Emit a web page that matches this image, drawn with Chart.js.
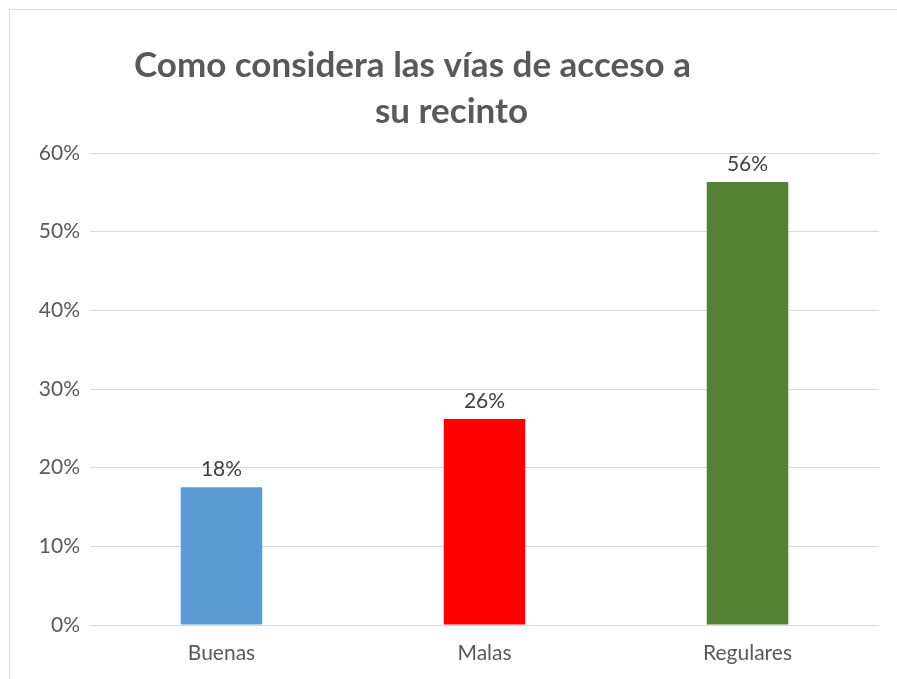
<!DOCTYPE html>
<html>
<head>
<meta charset="utf-8">
<script src="https://cdn.jsdelivr.net/npm/chart.js@4.4.1/dist/chart.umd.min.js"></script>
<style>
  html, body { margin: 0; padding: 0; background: #ffffff; }
  #wrap { position: relative; width: 897px; height: 679px; overflow: hidden; background: #fff; }
  #frame { position: absolute; left: 9px; top: 9px; width: 900px; height: 700px; border: 1px solid #d9d9d9; box-sizing: border-box; }
  canvas { position: absolute; left: 0; top: 0; }
</style>
</head>
<body>
<div id="wrap">
  <div id="frame"></div>
  <canvas id="c" width="897" height="679"></canvas>
</div>
<script>
const titleLines = ["Como considera las vías de acceso a", "su recinto"];
const categories = ["Buenas", "Malas", "Regulares"];
const values = [17.5, 26.2, 56.3];
const barColors = ["#5B9BD5", "#FF0000", "#548235"];
const yTicks = [0, 10, 20, 30, 40, 50, 60];

const FONT = "Lato, 'Open Sans', sans-serif";

const titlePlugin = {
  id: 'customTitle',
  afterDraw(chart) {
    const ctx = chart.ctx;
    ctx.save();
    ctx.fillStyle = '#595959';
    ctx.font = "bold 35px " + FONT;
    ctx.textBaseline = 'alphabetic';
    ctx.textAlign = 'left';
    ctx.fillText(titleLines[0], 134, 77);
    ctx.textAlign = 'right';
    ctx.fillText(titleLines[1], 528, 123);
    ctx.restore();
  }
};

const labelPlugin = {
  id: 'valueLabels',
  afterDatasetsDraw(chart) {
    const ctx = chart.ctx;
    const meta = chart.getDatasetMeta(0);
    ctx.save();
    ctx.fillStyle = '#404040';
    ctx.font = "21px " + FONT;
    ctx.textAlign = 'center';
    ctx.textBaseline = 'alphabetic';
    meta.data.forEach((bar, i) => {
      ctx.fillText(Math.round(values[i]) + '%', bar.x, bar.y - 11);
    });
    ctx.restore();
  }
};

new Chart(document.getElementById('c'), {
  type: 'bar',
  data: {
    labels: categories,
    datasets: [{
      data: values,
      backgroundColor: barColors,
      borderWidth: 0,
      categoryPercentage: 1.0,
      barPercentage: 0.31
    }]
  },
  options: {
    responsive: false,
    animation: false,
    devicePixelRatio: 1,
    layout: { padding: { top: 153, right: 18, left: 0, bottom: 0 } },
    plugins: {
      legend: { display: false },
      title: { display: false },
      tooltip: { enabled: false }
    },
    scales: {
      x: {
        grid: { display: false, drawTicks: false },
        border: { display: false },
        ticks: { color: '#595959', font: { family: FONT, size: 21 }, padding: 16 },
        afterFit(scale) { scale.height = 54; }
      },
      y: {
        min: 0,
        max: 60,
        afterBuildTicks(scale) { scale.ticks = yTicks.map(v => ({ value: v })); },
        grid: { color: '#d9d9d9', lineWidth: 1, drawTicks: false },
        border: { display: false },
        ticks: {
          color: '#595959',
          font: { family: FONT, size: 21 },
          padding: 10,
          callback: v => v + '%'
        },
        afterFit(scale) { scale.width = 90; }
      }
    }
  },
  plugins: [titlePlugin, labelPlugin]
});
</script>
</body>
</html>
